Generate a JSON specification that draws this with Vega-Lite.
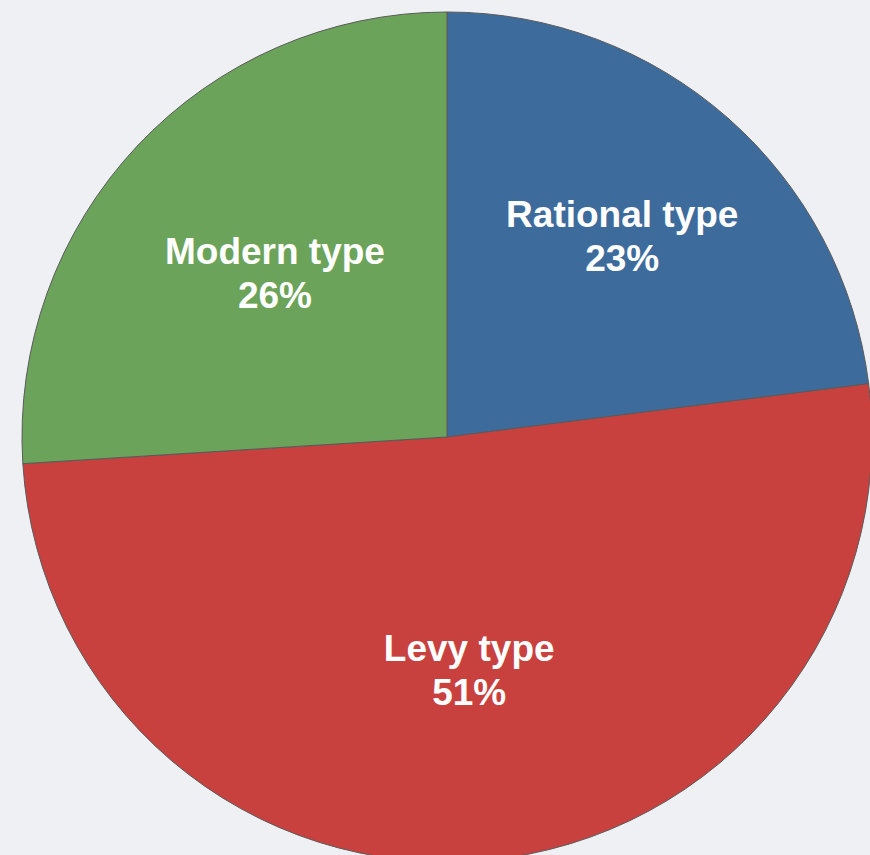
{
  "$schema": "https://vega.github.io/schema/vega-lite/v6.json",
  "width": 894,
  "height": 874,
  "autosize": "none",
  "padding": 0,
  "background": "#eef0f3",
  "config": {"view": {"stroke": null}},
  "data": {"values": [
    {"type": "Rational type", "share": 0.23, "order": 1},
    {"type": "Levy type", "share": 0.51, "order": 2},
    {"type": "Modern type", "share": 0.26, "order": 3}
  ]},
  "encoding": {
    "theta": {"field": "share", "type": "quantitative", "stack": true},
    "order": {"field": "order", "type": "quantitative"}
  },
  "layer": [
    {
      "mark": {"type": "arc", "outerRadius": 425, "stroke": "#5a5a5a", "strokeWidth": 1},
      "encoding": {
        "color": {"field": "type", "type": "nominal", "legend": null,
          "scale": {"domain": ["Rational type", "Levy type", "Modern type"], "range": ["#3d6b9c", "#c9413f", "#6ca35a"]}}
      }
    },
    {
      "mark": {"type": "text", "radius": 265, "dy": -22, "font": "Liberation Sans", "fontWeight": "bold", "fontSize": 37, "fill": "white"},
      "encoding": {
        "text": {"field": "type"},
        "opacity": {"condition": {"test": "datum.type === 'Rational type'", "value": 1}, "value": 0}
      }
    },
    {
      "mark": {"type": "text", "radius": 265, "dy": 22, "font": "Liberation Sans", "fontWeight": "bold", "fontSize": 37, "fill": "white"},
      "encoding": {
        "text": {"field": "share", "format": ".0%"},
        "opacity": {"condition": {"test": "datum.type === 'Rational type'", "value": 1}, "value": 0}
      }
    },
    {
      "mark": {"type": "text", "radius": 236, "dy": -22, "font": "Liberation Sans", "fontWeight": "bold", "fontSize": 37, "fill": "white"},
      "encoding": {
        "text": {"field": "type"},
        "opacity": {"condition": {"test": "datum.type !== 'Rational type'", "value": 1}, "value": 0}
      }
    },
    {
      "mark": {"type": "text", "radius": 236, "dy": 22, "font": "Liberation Sans", "fontWeight": "bold", "fontSize": 37, "fill": "white"},
      "encoding": {
        "text": {"field": "share", "format": ".0%"},
        "opacity": {"condition": {"test": "datum.type !== 'Rational type'", "value": 1}, "value": 0}
      }
    }
  ]
}
